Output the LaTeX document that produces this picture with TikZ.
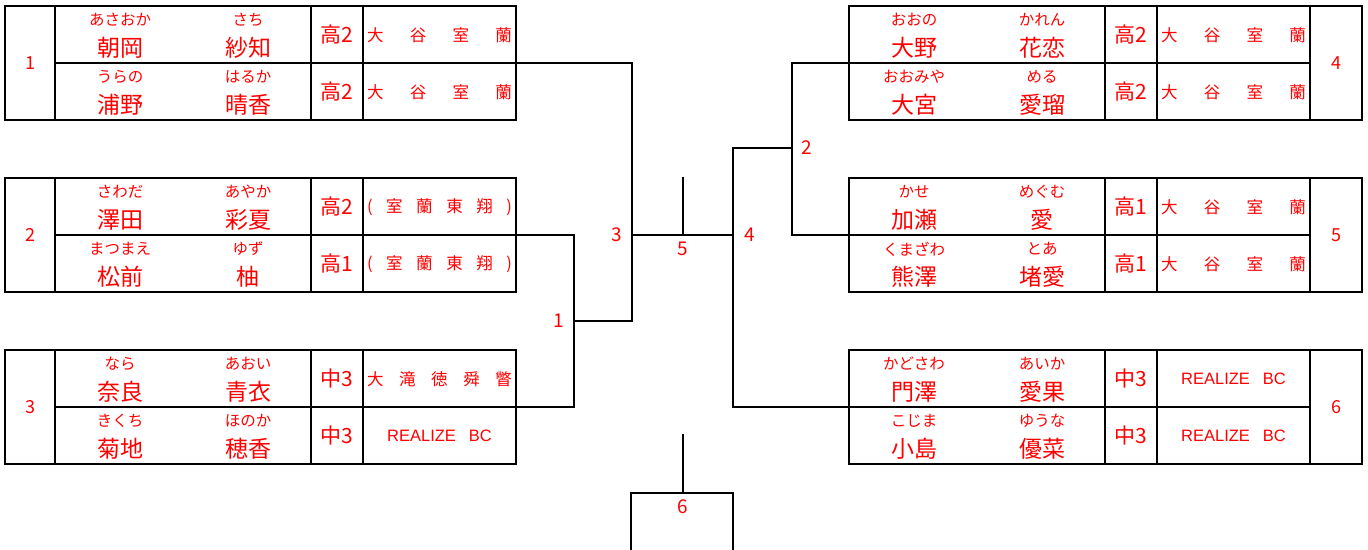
\documentclass[tikz,border=0pt]{standalone}
\usepackage{fontspec}
\setmainfont{Noto Sans CJK JP}
\newfontfamily\latinfont{Liberation Sans}
\usepackage{xcolor}
\definecolor{entryred}{RGB}{255,0,0}

\tikzset{
	tablebox/.style={line width=1.8pt, line cap=rect},
	bracket/.style={line width=1.8pt, line cap=rect},
	furi/.style={text=entryred, inner sep=0pt, font=\fontsize{15.5}{15.5}\selectfont},
	kanji/.style={text=entryred, inner sep=0pt, font=\fontsize{23}{23}\selectfont},
	grade/.style={text=entryred, inner sep=0pt, font=\fontsize{21}{21}\selectfont},
	school/.style={text=entryred, inner sep=0pt, font=\fontsize{16.5}{16.5}\selectfont},
	seed/.style={text=entryred, inner sep=0pt, font=\fontsize{18}{18}\selectfont},
	matchno/.style={text=entryred, inner sep=0pt, font=\fontsize{19}{19}\selectfont}
}

\newcommand{\realize}{\hfil{\latinfont REALIZE\hspace{13pt}BC}\hfil}

% one row of a pair: id, x of name column, top y, furigana/name x2, grade, school
\newcommand{\teamrow}[9]{
	\node[furi]  (#1f1) at (#2+65,#3+14)  {#4};
	\node[kanji] (#1n1) at (#2+65,#3+42)  {#5};
	\node[furi]  (#1f2) at (#2+193,#3+14) {#6};
	\node[kanji] (#1n2) at (#2+193,#3+42) {#7};
	\node[grade] (#1g)  at (#2+282,#3+29) {#8};
	\node[school](#1s)  at (#2+384.5,#3+29) {\makebox[145pt][s]{#9}};
}

\begin{document}
\begin{tikzpicture}[x=1pt,y=-1pt]
	\useasboundingbox (0,0) rectangle (1368,549);
	
	%LEFT TABLES
	\foreach \y/\n in {6/1,178/2,350/3}{
		\draw[tablebox] (5,\y) rectangle (516,\y+114);
		\draw[tablebox] (55,\y) -- (55,\y+114);
		\draw[tablebox] (311,\y) -- (311,\y+114);
		\draw[tablebox] (363,\y) -- (363,\y+114);
		\draw[tablebox] (55,\y+57) -- (516,\y+57);
		\node[seed] (seed\n) at (30,\y+57) {\n};
	}
	
	%RIGHT TABLES
	\foreach \y/\n in {6/4,178/5,350/6}{
		\draw[tablebox] (849,\y) rectangle (1362,\y+114);
		\draw[tablebox] (1105,\y) -- (1105,\y+114);
		\draw[tablebox] (1157,\y) -- (1157,\y+114);
		\draw[tablebox] (1310,\y) -- (1310,\y+114);
		\draw[tablebox] (849,\y+57) -- (1310,\y+57);
		\node[seed] (seed\n) at (1336,\y+57) {\n};
	}
	
	%entries
	\teamrow{a1}{55}{6}{あさおか}{朝岡}{さち}{紗知}{高2}{大\hfill 谷\hfill 室\hfill 蘭}
	\teamrow{b1}{55}{63}{うらの}{浦野}{はるか}{晴香}{高2}{大\hfill 谷\hfill 室\hfill 蘭}
	\teamrow{a2}{55}{178}{さわだ}{澤田}{あやか}{彩夏}{高2}{(\hfill 室\hfill 蘭\hfill 東\hfill 翔\hfill )}
	\teamrow{b2}{55}{235}{まつまえ}{松前}{ゆず}{柚}{高1}{(\hfill 室\hfill 蘭\hfill 東\hfill 翔\hfill )}
	\teamrow{a3}{55}{350}{なら}{奈良}{あおい}{青衣}{中3}{大\hfill 滝\hfill 徳\hfill 舜\hfill 瞥}
	\teamrow{b3}{55}{407}{きくち}{菊地}{ほのか}{穂香}{中3}{\realize}
	\teamrow{a4}{849}{6}{おおの}{大野}{かれん}{花恋}{高2}{大\hfill 谷\hfill 室\hfill 蘭}
	\teamrow{b4}{849}{63}{おおみや}{大宮}{める}{愛瑠}{高2}{大\hfill 谷\hfill 室\hfill 蘭}
	\teamrow{a5}{849}{178}{かせ}{加瀬}{めぐむ}{愛}{高1}{大\hfill 谷\hfill 室\hfill 蘭}
	\teamrow{b5}{849}{235}{くまざわ}{熊澤}{とあ}{堵愛}{高1}{大\hfill 谷\hfill 室\hfill 蘭}
	\teamrow{a6}{849}{350}{かどさわ}{門澤}{あいか}{愛果}{中3}{\realize}
	\teamrow{b6}{849}{407}{こじま}{小島}{ゆうな}{優菜}{中3}{\realize}
	
	%BRACKET
	\coordinate (L1) at (516,63);
	\coordinate (L2) at (516,235);
	\coordinate (L3) at (516,407);
	\coordinate (R4) at (849,63);
	\coordinate (R5) at (849,235);
	\coordinate (R6) at (849,407);
	\coordinate (m1) at (574,321);
	\coordinate (m3) at (632,235);
	\coordinate (m5) at (683,235);
	\coordinate (m4) at (733,235);
	\coordinate (m2) at (792,148);
	\coordinate (t5) at (683,178);
	
	\draw[bracket] (L2) -| (m1) |- (L3);
	\draw[bracket] (L1) -| (m3);
	\draw[bracket] (m1) -| (m3);
	\draw[bracket] (m3) -- (m4);
	\draw[bracket] (m5) -- (t5);
	\draw[bracket] (R4) -| (m2);
	\draw[bracket] (R5) -| (m2);
	\draw[bracket] (m2) -| (m4);
	\draw[bracket] (R6) -| (m4);
	
	\node[matchno] (n1) at (559,321) {1};
	\node[matchno] (n3) at (617,235) {3};
	\node[matchno] (n5) at (683,249) {5};
	\node[matchno] (n4) at (750,235) {4};
	\node[matchno] (n2) at (807,148) {2};
	
	%3rd place
	\coordinate (t6) at (683,435);
	\coordinate (m6) at (683,493);
	\coordinate (b6l) at (631,549);
	\coordinate (b6r) at (733,549);
	\draw[bracket] (t6) -- (m6);
	\draw[bracket] (b6l) |- (m6) -| (b6r);
	\node[matchno] (n6) at (683,507) {6};
	
\end{tikzpicture}
\end{document}
